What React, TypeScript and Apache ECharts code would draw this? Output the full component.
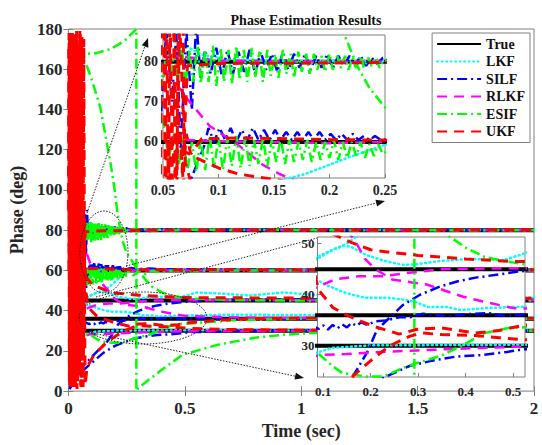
import React, { useEffect, useRef } from 'react';
import * as echarts from 'echarts';

const FONT = "'Liberation Serif', 'Times New Roman', Times, serif";

const legendNames = ['True', 'LKF', 'SILF', 'RLKF', 'ESIF', 'UKF'];
const trueLevels = [30, 36, 45, 60, 80];
const trueSpan = [0.02, 2];

const mainXTicks = [0, 0.5, 1, 1.5, 2];
const mainYRange = [0, 180];
const inset1XRange = [0.05, 0.25];
const inset1YRange = [51, 86.7];
const inset1YTicks = [60, 70, 80];
const inset2XRange = [0.088, 0.525];
const inset2XTicks = [0.1, 0.2, 0.3, 0.4, 0.5];
const inset2YRange = [23.9, 51.3];
const inset2YTicks = [30, 40, 50];

// ---- LKF (cyan dotted)
const lkf30 = [[0.04, 20], [0.06, 25], [0.08, 28.5], [0.12, 29.6], [0.2, 30.1], [0.5, 30.2], [2, 30.1]];
const lkf36 = [[0.03, 60], [0.045, 50], [0.06, 44.5], [0.085, 43], [0.104, 42], [0.125, 41.2], [0.146, 40.4], [0.17, 39.8], [0.19, 39.4], [0.237, 39.4], [0.265, 39.1], [0.294, 38.6], [0.32, 37.6], [0.36, 37.6], [0.39, 37], [0.445, 37.4], [0.5, 37.6], [0.7, 38], [1.0, 37.8], [1.5, 37], [2, 36.7]];
const lkf45 = [[0.006, 145], [0.01, 100], [0.014, 150], [0.018, 108], [0.022, 138], [0.026, 115], [0.03, 70], [0.045, 50], [0.06, 46], [0.087, 47], [0.105, 48], [0.125, 49], [0.145, 49.6], [0.16, 49.3], [0.19, 47.8], [0.23, 46.6], [0.27, 45.8], [0.3, 46], [0.346, 46.6], [0.41, 47], [0.48, 46.8], [0.515, 47.8], [0.55, 49], [0.65, 48.5], [0.78, 47.5], [0.92, 49], [1.1, 47.5], [1.4, 46.8], [1.7, 46.6], [2, 46.5]];
const lkf60 = [[0.03, 40], [0.05, 44], [0.07, 46.5], [0.087, 47.4], [0.12, 48.8], [0.15, 50], [0.178, 52], [0.216, 56], [0.25, 59.3], [0.3, 60.3], [0.5, 60.4], [1, 60.2], [2, 60.1]];
const lkf80 = [[0.03, 100], [0.05, 86], [0.07, 84], [0.085, 81.8], [0.11, 80.6], [0.16, 80.2], [2, 80.1]];

// ---- SILF (blue dash-dot)
const silf30 = [[0.005, 2], [0.02, 5], [0.05, 9], [0.1, 14], [0.15, 19], [0.2, 22.5], [0.235, 24.1], [0.283, 26.1], [0.33, 27.1], [0.38, 27.9], [0.436, 28.2], [0.487, 28.8], [0.52, 29.3], [0.7, 29.8], [1, 30], [2, 30]];
const silf36 = [[0.03, 45], [0.045, 39], [0.06, 36.5], [0.075, 34], [0.09, 33.3], [0.1, 34], [0.11, 33.2], [0.12, 34.1], [0.13, 33.4], [0.14, 34.2], [0.15, 33.6], [0.16, 34.5], [0.17, 33.9], [0.18, 34.6], [0.193, 34.1], [0.21, 34.8], [0.235, 35], [0.26, 35.6], [0.283, 35.6], [0.31, 36.3], [0.33, 36.1], [0.36, 35.8], [0.4, 36.2], [0.45, 36.4], [0.48, 35.9], [0.52, 36.1], [1, 36.1], [2, 36]];
const silf45 = [[0.005, 1], [0.01, 2], [0.03, 6], [0.06, 12], [0.1, 17], [0.13, 20.5], [0.163, 24.1], [0.193, 28.8], [0.213, 33.1], [0.241, 35.6], [0.268, 38], [0.304, 40], [0.346, 41.6], [0.382, 42.6], [0.424, 43.4], [0.473, 44], [0.515, 44.6], [0.7, 45.4], [1, 45.6], [2, 45.3]];
const silf60 = [[0.02, 5], [0.04, 25], [0.06, 40], [0.077, 52], [0.083, 56], [0.087, 59], [0.091, 63.5], [0.096, 60], [0.101, 63.5], [0.106, 60.5], [0.111, 63.5], [0.116, 60], [0.121, 63], [0.126, 60.5], [0.131, 63.5], [0.136, 60.5], [0.141, 63], [0.146, 60.5], [0.151, 63], [0.156, 60.5], [0.161, 62.5], [0.166, 60.5], [0.171, 62.5], [0.176, 60.5], [0.181, 62.5], [0.186, 60.5], [0.191, 62.5], [0.196, 60.5], [0.201, 62], [0.206, 60.5], [0.211, 62], [0.216, 60.5], [0.221, 62], [0.226, 60.5], [0.231, 61.5], [0.236, 60.5], [0.241, 61.5], [0.246, 60.5], [0.27, 61.2], [0.3, 60.6], [0.35, 61], [0.4, 60.5], [0.5, 60.6], [1, 60.3], [2, 60.2]];
const silf80 = [[0.03, 60], [0.04, 92], [0.048, 66], [0.053, 88], [0.058, 70], [0.062, 87], [0.066, 58], [0.071, 88], [0.076, 68], [0.08, 90], [0.084, 76], [0.088, 83], [0.093, 77], [0.098, 83.5], [0.103, 76.5], [0.108, 83], [0.113, 77], [0.118, 82.5], [0.123, 77.5], [0.128, 83], [0.133, 77], [0.138, 82.5], [0.143, 78], [0.148, 82], [0.153, 77.5], [0.158, 82.5], [0.163, 78], [0.168, 82], [0.173, 78.5], [0.178, 82], [0.183, 78], [0.188, 81.5], [0.193, 78.5], [0.198, 82], [0.203, 78.5], [0.208, 81.5], [0.213, 79], [0.218, 81.5], [0.223, 79], [0.228, 81.5], [0.233, 79], [0.238, 81], [0.243, 79.5], [0.248, 81], [0.27, 79.5], [0.3, 80.8], [0.35, 79.6], [0.4, 80.5], [0.5, 79.8], [0.7, 80.3], [2, 80]];

// ---- RLKF (magenta dashed)
const rlkf30 = [[0.03, 22], [0.06, 27], [0.09, 28.2], [0.15, 28.4], [0.224, 28.8], [0.3, 29.1], [0.375, 29.4], [0.5, 29.8], [0.7, 29.9], [2, 30]];
const rlkf36 = [[0.03, 84], [0.054, 77.5], [0.072, 70.7], [0.092, 64], [0.117, 59.4], [0.14, 54.3], [0.155, 52], [0.167, 50.6], [0.188, 47], [0.21, 45], [0.245, 43], [0.287, 42.4], [0.318, 42], [0.395, 39.6], [0.45, 38.4], [0.5, 37.4], [0.65, 36.8], [0.9, 36.3], [2, 36.1]];
const rlkf45 = [[0.03, 35], [0.06, 40], [0.085, 41.4], [0.125, 43], [0.174, 43.6], [0.224, 43.6], [0.28, 44.3], [0.35, 45], [0.5, 45.2], [2, 45.1]];
const rlkf60 = [[0.04, 62], [0.06, 60.6], [0.1, 60.2], [0.2, 59.7], [0.25, 60], [2, 60]];
const rlkf80 = [[0.04, 83], [0.06, 81.5], [0.1, 80.3], [0.2, 80], [2, 80]];

// ---- ESIF (green dash-dot)
const esif30 = [[0.005, 178], [0.01, 176], [0.02, 169], [0.05, 167.5], [0.12, 168], [0.18, 170], [0.24, 174], [0.292, 180], [0.292, 0], [0.3, 1.5], [0.35, 6], [0.4, 10.5], [0.49, 18], [0.64, 23], [0.8, 26.5], [0.92, 28], [1.1, 29.2], [1.5, 29.8], [2, 30]];
const esif36 = [[0.03, 30], [0.05, 27], [0.087, 28.7], [0.12, 26], [0.14, 24.7], [0.19, 24], [0.226, 24], [0.277, 26], [0.31, 27], [0.346, 28], [0.39, 29.9], [0.44, 32.5], [0.49, 33.5], [0.52, 33.6], [0.7, 35.2], [1, 36], [2, 36]];
const esif45 = [[0.02, 169], [0.05, 166], [0.073, 163.5], [0.1, 155], [0.137, 141], [0.18, 114], [0.2, 99], [0.21, 89], [0.225, 79], [0.236, 73.5], [0.25, 68.6], [0.3, 60], [0.33, 55.5], [0.36, 51.8], [0.4, 49.2], [0.44, 47.4], [0.48, 46.6], [0.52, 46], [0.7, 45.3], [1, 45], [2, 45]];
const esif60 = [[0.05, 66], [0.055, 56], [0.06, 62], [0.064, 54], [0.068, 61], [0.072, 53], [0.076, 60], [0.08, 52.5], [0.084, 61], [0.088, 53], [0.092, 61.5], [0.096, 53.5], [0.1, 61], [0.104, 53], [0.108, 61], [0.112, 54], [0.116, 61.5], [0.12, 53.5], [0.124, 61], [0.128, 54], [0.132, 60.5], [0.136, 54.5], [0.14, 61], [0.144, 54], [0.148, 60.5], [0.152, 55], [0.156, 61], [0.16, 54.5], [0.164, 60.5], [0.168, 55], [0.172, 60], [0.176, 55.5], [0.18, 60.5], [0.184, 55], [0.188, 60], [0.192, 55.5], [0.196, 60], [0.2, 56], [0.204, 60.5], [0.208, 55.5], [0.212, 60], [0.216, 56], [0.22, 60], [0.224, 56.5], [0.228, 60], [0.232, 56], [0.236, 59.5], [0.24, 56.5], [0.244, 59.5], [0.248, 57], [0.26, 59.5], [0.28, 57.5], [0.3, 59.6], [0.33, 58.2], [0.36, 59.8], [0.4, 59], [0.45, 60.1], [0.5, 59.6], [0.7, 60], [2, 60]];
const esif80 = [[0.04, 95], [0.05, 74], [0.053, 84], [0.057, 76], [0.06, 83], [0.063, 75], [0.067, 84], [0.07, 74], [0.074, 83], [0.077, 75], [0.081, 84], [0.084, 74.5], [0.088, 83], [0.091, 75], [0.095, 84], [0.098, 74], [0.102, 83.5], [0.105, 75], [0.109, 83], [0.112, 74.5], [0.116, 84], [0.119, 75.5], [0.123, 83], [0.126, 75], [0.13, 83.5], [0.133, 76], [0.137, 82.5], [0.14, 75], [0.144, 83], [0.147, 76.5], [0.151, 82], [0.154, 76], [0.158, 83], [0.161, 77], [0.165, 82], [0.168, 76], [0.172, 82.5], [0.175, 77.5], [0.179, 82], [0.182, 77], [0.186, 82], [0.189, 78], [0.193, 81.5], [0.196, 77.5], [0.2, 82], [0.203, 78], [0.207, 81.5], [0.21, 78.5], [0.214, 81.5], [0.217, 78], [0.221, 81], [0.224, 78.5], [0.228, 81.5], [0.231, 78.5], [0.235, 81], [0.238, 79], [0.242, 81], [0.245, 78.5], [0.249, 80.5], [0.26, 79.2], [0.28, 80.8], [0.3, 79.4], [0.33, 80.6], [0.36, 79.6], [0.4, 80.4], [0.45, 79.8], [0.5, 80.2], [1, 80], [2, 80]];

// ---- UKF (red dashed)
const ukf30 = [[0.058, 130], [0.063, 2], [0.068, 60], [0.072, 3], [0.08, 12], [0.11, 18], [0.14, 21.5], [0.164, 24.2], [0.205, 27.5], [0.24, 30], [0.283, 31.9], [0.31, 32.5], [0.35, 32.2], [0.42, 32], [0.47, 31.6], [0.52, 31.2], [0.7, 30.6], [1, 30.3], [2, 30.3]];
const ukf36 = [[0.055, 120], [0.06, 20], [0.065, 90], [0.07, 55], [0.08, 45], [0.09, 41], [0.12, 37.5], [0.15, 36], [0.18, 34.8], [0.21, 33.7], [0.26, 32.3], [0.3, 33.3], [0.35, 33.5], [0.42, 32.5], [0.47, 33], [0.52, 34], [0.64, 35.2], [0.8, 36.1], [1, 36.3], [2, 36.2]];
const ukf45 = [[0.002, 60], [0.005, 175], [0.008, 8], [0.011, 171], [0.014, 3], [0.017, 178], [0.02, 14], [0.023, 170], [0.026, 2], [0.0295, 176], [0.0325, 9], [0.0355, 179], [0.039, 5], [0.043, 172], [0.047, 11], [0.0505, 177], [0.055, 40], [0.06, 75], [0.067, 58], [0.08, 56], [0.1, 53.5], [0.118, 52], [0.16, 50.2], [0.2, 48.8], [0.25, 48.2], [0.3, 47.7], [0.4, 47], [0.5, 46.5], [1, 46.2], [2, 46.2]];
const ukf60 = [[0.0015, 170], [0.0045, 5], [0.0075, 160], [0.0105, 2], [0.0135, 178], [0.0165, 12], [0.0195, 174], [0.0225, 3], [0.0255, 165], [0.029, 7], [0.033, 177], [0.037, 1], [0.041, 172], [0.045, 15], [0.049, 179], [0.053, 3], [0.057, 64], [0.061, 52], [0.065, 63], [0.068, 51], [0.071, 62], [0.075, 57], [0.085, 60.8], [0.12, 61], [0.2, 60.6], [0.3, 60.3], [2, 60.2]];
const ukf80 = [[0, 90], [0.003, 178], [0.006, 3], [0.009, 172], [0.012, 10], [0.015, 176], [0.018, 2], [0.021, 168], [0.024, 6], [0.027, 179], [0.03, 1], [0.034, 175], [0.038, 4], [0.042, 170], [0.046, 8], [0.05, 178], [0.054, 2], [0.058, 176], [0.062, 30], [0.066, 175], [0.069, 60], [0.072, 79], [0.1, 79.6], [0.2, 79.7], [0.3, 80], [2, 80.2]];

const estimators = [
  { name: 'LKF', color: '#00FFFF', width: 2.5, dash: [1, 3.5], cap: 'round', curves: [lkf30, lkf36, lkf45, lkf60, lkf80] },
  { name: 'SILF', color: '#0000FF', width: 2.5, dash: [10, 4, 2, 4], cap: 'butt', curves: [silf30, silf36, silf45, silf60, silf80] },
  { name: 'RLKF', color: '#FF00FF', width: 2.5, dash: [10, 7], cap: 'butt', curves: [rlkf30, rlkf36, rlkf45, rlkf60, rlkf80] },
  { name: 'ESIF', color: '#00FF00', width: 2.5, dash: [10, 4, 2, 4], cap: 'butt', curves: [esif30, esif36, esif45, esif60, esif80] },
  { name: 'UKF', color: '#FF0000', width: 3, dash: [10, 7], cap: 'butt', curves: [ukf30, ukf36, ukf45, ukf60, ukf80] },
];

function arrowHead(x1: number, y1: number, x2: number, y2: number) {
  const dx = x2 - x1, dy = y2 - y1;
  const len = Math.sqrt(dx * dx + dy * dy);
  const ux = dx / len, uy = dy / len;
  const L = 9, W = 3.5;
  const bx = x2 - ux * L, by = y2 - uy * L;
  return {
    type: 'polygon', z: 30, silent: true,
    shape: { points: [[x2, y2], [bx - uy * W, by + ux * W], [bx + uy * W, by - ux * W]] },
    style: { fill: '#111' },
  };
}

function dottedLine(x1: number, y1: number, x2: number, y2: number) {
  return {
    type: 'line', z: 30, silent: true,
    shape: { x1, y1, x2, y2 },
    style: { stroke: '#222', lineWidth: 1, lineDash: [1.5, 1.5] },
  };
}

export default function App() {
  const ref = useRef<HTMLDivElement>(null);
  useEffect(() => {
    if (!ref.current) return;
    const chart = echarts.init(ref.current, null, { renderer: 'svg' });
    const label = (size: number) => ({ fontFamily: FONT, fontWeight: 'bold', fontSize: size, color: '#262626' });
    const tickStyle = { lineStyle: { color: '#808080', width: 1 } };

    const grids = [
      { x: 0, y: 0, z: 2 },
      { x: 2, y: 2, z: 12 },
      { x: 3, y: 3, z: 12 },
    ];
    const series: any[] = [];
    for (const g of grids) {
      for (const lv of trueLevels) {
        series.push({
          type: 'line', name: 'True', data: trueSpan.map((t) => [t, lv]),
          xAxisIndex: g.x, yAxisIndex: g.y, z: g.z, symbol: 'none', silent: true,
          lineStyle: { color: '#000', width: 4 }, itemStyle: { color: '#000' },
        });
      }
      for (const est of estimators) {
        for (const c of est.curves) {
          series.push({
            type: 'line', name: est.name, data: c,
            xAxisIndex: g.x, yAxisIndex: g.y, z: g.z, symbol: 'none', silent: true,
            lineStyle: { color: est.color, width: est.width, type: est.dash, cap: est.cap },
            itemStyle: { color: est.color },
          });
        }
      }
    }

    const option: any = {
      animation: false,
      backgroundColor: '#fff',
      title: {
        text: 'Phase Estimation Results', left: 301, top: 8, textAlign: 'center',
        textStyle: { fontFamily: FONT, fontWeight: 'bold', fontSize: 14, color: '#111' },
      },
      legend: {
        data: legendNames, orient: 'vertical', right: 12, top: 33,
        itemWidth: 44, itemHeight: 12, itemGap: 1.5, padding: [3, 5, 3, 4],
        backgroundColor: '#fff', borderColor: '#808080', borderWidth: 1,
        itemStyle: { opacity: 0 },
        textStyle: { fontFamily: FONT, fontWeight: 'bold', fontSize: 14, color: '#111', lineHeight: 16 },
        selectedMode: false, z: 25,
      },
      grid: [
        { left: 68, right: 8, top: 29, height: 368, show: true, borderColor: '#808080', borderWidth: 1, backgroundColor: 'transparent', z: 0 },
        { left: 163, top: 35, width: 222, height: 143, show: true, borderColor: '#808080', borderWidth: 1, backgroundColor: '#fff', z: 10 },
        { left: 317.5, top: 237, width: 207.5, height: 140, show: true, borderColor: '#808080', borderWidth: 1, backgroundColor: '#fff', z: 10 },
      ],
      xAxis: [
        {
          gridIndex: 0, type: 'value', min: mainXTicks[0], max: mainXTicks[mainXTicks.length - 1], interval: 0.5, position: 'bottom',
          axisLine: { show: false }, axisTick: { inside: true, length: 5, ...tickStyle }, splitLine: { show: false },
          axisLabel: { ...label(17), margin: 9 },
          name: 'Time (sec)', nameLocation: 'middle', nameGap: 27, nameTextStyle: label(18),
        },
        {
          gridIndex: 0, type: 'value', min: mainXTicks[0], max: mainXTicks[mainXTicks.length - 1], interval: 0.5, position: 'top',
          axisLine: { show: false }, axisTick: { inside: true, length: 5, ...tickStyle }, splitLine: { show: false },
          axisLabel: { show: false },
        },
        {
          gridIndex: 1, type: 'value', min: inset1XRange[0], max: inset1XRange[1], interval: 0.05, z: 11,
          axisLine: { show: false }, axisTick: { inside: true, length: 4, ...tickStyle }, splitLine: { show: false },
          axisLabel: { ...label(14), margin: 5 },
        },
        {
          gridIndex: 2, type: 'value', min: inset2XRange[0], max: inset2XRange[1], z: 11,
          axisLine: { show: false }, axisTick: { inside: true, length: 4, customValues: inset2XTicks, ...tickStyle }, splitLine: { show: false },
          axisLabel: { ...label(13), margin: 8, customValues: inset2XTicks },
        },
      ],
      yAxis: [
        {
          gridIndex: 0, type: 'value', min: mainYRange[0], max: mainYRange[1], interval: 20, position: 'left',
          axisLine: { show: false }, axisTick: { inside: true, length: 5, ...tickStyle }, splitLine: { show: false },
          axisLabel: { ...label(17), margin: 6 },
          name: 'Phase (deg)', nameLocation: 'middle', nameGap: 34, nameTextStyle: label(18),
        },
        {
          gridIndex: 0, type: 'value', min: mainYRange[0], max: mainYRange[1], interval: 20, position: 'right',
          axisLine: { show: false }, axisTick: { inside: true, length: 5, ...tickStyle }, splitLine: { show: false },
          axisLabel: { show: false },
        },
        {
          gridIndex: 1, type: 'value', min: inset1YRange[0], max: inset1YRange[1], z: 11,
          axisLine: { show: false }, axisTick: { inside: true, length: 4, customValues: inset1YTicks, ...tickStyle }, splitLine: { show: false },
          axisLabel: { ...label(14), margin: 5, customValues: inset1YTicks },
        },
        {
          gridIndex: 2, type: 'value', min: inset2YRange[0], max: inset2YRange[1], z: 11,
          axisLine: { show: false }, axisTick: { inside: true, length: 4, customValues: inset2YTicks, ...tickStyle }, splitLine: { show: false },
          axisLabel: { ...label(13), margin: 3, customValues: inset2YTicks },
        },
      ],
      graphic: [
        { type: 'ellipse', z: 30, silent: true, shape: { cx: 104, cy: 252, rx: 24, ry: 41 }, style: { fill: 'none', stroke: '#222', lineWidth: 1, lineDash: [1.5, 1.5] } },
        { type: 'ellipse', z: 30, silent: true, shape: { cx: 143, cy: 318, rx: 64, ry: 26 }, style: { fill: 'none', stroke: '#222', lineWidth: 1, lineDash: [1.5, 1.5] } },
        dottedLine(87, 213, 146, 43),
        arrowHead(87, 213, 148, 38),
        dottedLine(126, 266, 380, 202),
        arrowHead(126, 266, 385, 201),
        dottedLine(96, 297, 317, 238),
        dottedLine(88, 332, 299, 377),
        arrowHead(88, 332, 304, 378),
      ],
      series,
    };
    chart.setOption(option);
    return () => chart.dispose();
  }, []);
  return <div ref={ref} style={{ position: 'fixed', left: 0, top: 0, width: 542, height: 445 }} />;
}
